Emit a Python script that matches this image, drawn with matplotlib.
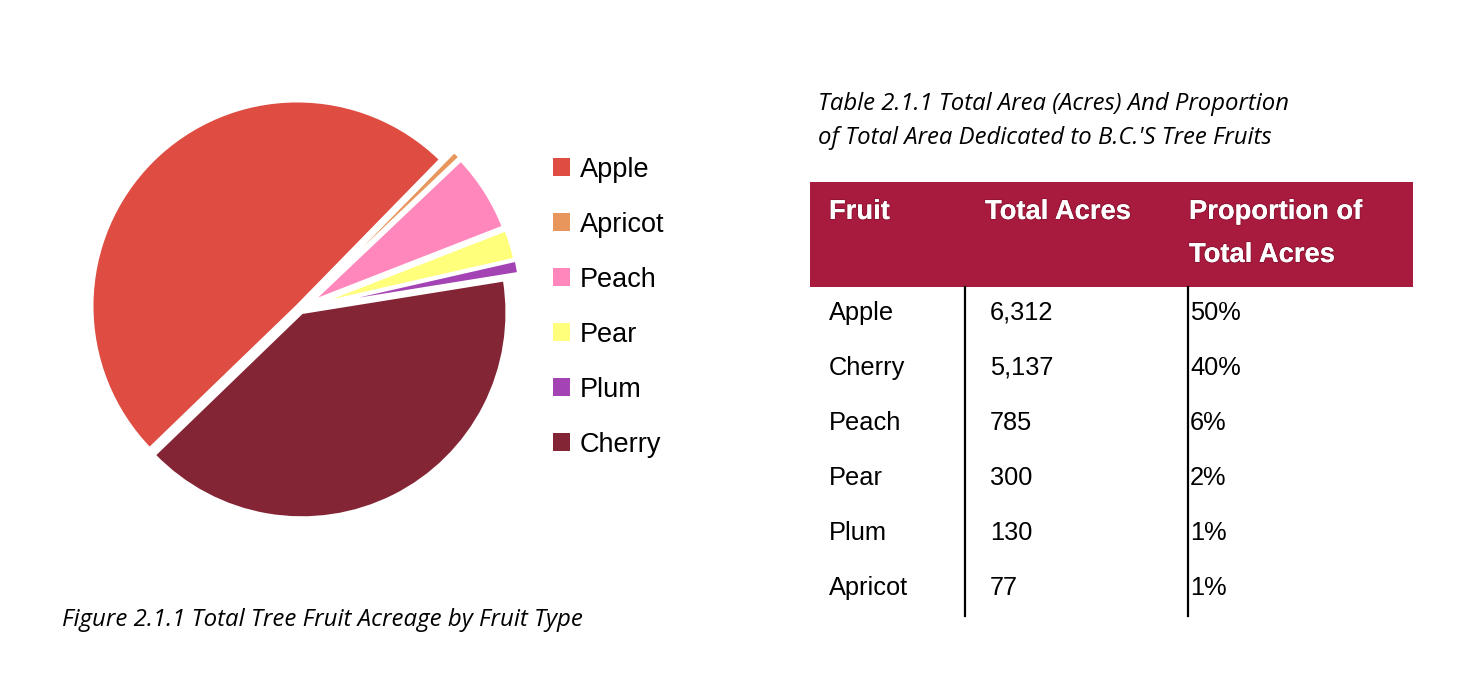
import matplotlib
matplotlib.use("Agg")
import matplotlib.pyplot as plt
from matplotlib.patches import Rectangle, Patch
from matplotlib.lines import Line2D
import matplotlib.patheffects as pe

W, H = 1472, 700

# pie data (legend / clockwise order)
fruits = ["Apple", "Apricot", "Peach", "Pear", "Plum", "Cherry"]
acres = [6312, 77, 785, 300, 130, 5137]
colors = ["#DE4C42", "#E8965C", "#FF87BB", "#FFFF7C", "#A443B4", "#832535"]

# table data
tbl_fruit = ["Apple", "Cherry", "Peach", "Pear", "Plum", "Apricot"]
tbl_acres = ["6,312", "5,137", "785", "300", "130", "77"]
tbl_share = ["50%", "40%", "6%", "2%", "1%", "1%"]
tbl_head = ["Fruit", "Total Acres", "Proportion of\nTotal Acres"]

HEAD_COL = "#A91B3E"


def fx(x):
    return x / W


def fy(y):
    return 1 - y / H


fig = plt.figure(figsize=(W / 100, H / 100), dpi=100)

# ---- pie ----
cx, cy, r = 300, 309, 205
half = r * 1.15
ax = fig.add_axes([(cx - half) / W, (H - cy - half) / H, 2 * half / W, 2 * half / H])
explode = [0.02, 0.075, 0.07, 0.075, 0.08, 0.02]
ax.pie(acres, colors=colors, startangle=224, counterclock=False,
       explode=explode, radius=1.0,
       wedgeprops=dict(edgecolor="white", linewidth=2.0))
ax.set_xlim(-1.15, 1.15); ax.set_ylim(-1.15, 1.15)
ax.set_aspect("equal"); ax.axis("off")

handles = [Patch(facecolor=c, edgecolor="none") for c in colors]
fig.legend(handles, fruits, loc="upper left", bbox_to_anchor=(fx(545), fy(148.5)),
           frameon=False, handlelength=0.62, handleheight=0.62,
           handletextpad=0.36, labelspacing=1.07, borderaxespad=0, borderpad=0.3,
           prop={"family": "Liberation Sans", "size": 19.5})

fig.text(fx(62), fy(620), "Figure 2.1.1 Total Tree Fruit Acreage by Fruit Type",
         fontsize=17.3, style="italic", family="Open Sans", va="center", ha="left")

# ---- table ----
fig.text(fx(818), fy(121), "Table 2.1.1 Total Area (Acres) And Proportion\nof Total Area Dedicated to B.C.'S Tree Fruits",
         fontsize=17.2, style="italic", family="Open Sans", va="center", ha="left", linespacing=1.58)

fig.add_artist(Rectangle((fx(810), fy(287)), fx(1413) - fx(810), fy(182) - fy(287),
                         transform=fig.transFigure, facecolor=HEAD_COL, edgecolor="none"))
for x, t in zip([829, 985, 1189], tbl_head):
    fig.text(fx(x), fy(199), t, color="white", fontsize=19.7, fontweight="bold",
             family="Liberation Sans", va="top", ha="left", linespacing=1.85,
             path_effects=[pe.withStroke(linewidth=1.5, foreground="#5a0a20", alpha=0.35), pe.Normal()])

row_y = [313, 368, 423, 478, 533, 588]
for yy, f, a, s in zip(row_y, tbl_fruit, tbl_acres, tbl_share):
    fig.text(fx(829), fy(yy), f, fontsize=18.3, family="Liberation Sans", va="center", ha="left")
    fig.text(fx(990), fy(yy), a, fontsize=18.3, family="Liberation Sans", va="center", ha="left")
    fig.text(fx(1190), fy(yy), s, fontsize=18.3, family="Liberation Sans", va="center", ha="left")

for x in (965, 1188):
    fig.add_artist(Line2D([fx(x), fx(x)], [fy(287), fy(616)], transform=fig.transFigure,
                          color="black", lw=1.6))

fig.savefig("out.png", dpi=100, facecolor="white")
